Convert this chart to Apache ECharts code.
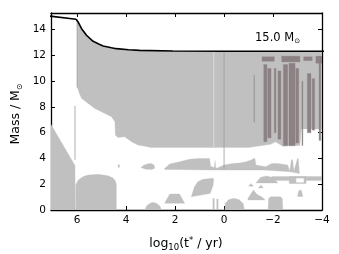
<!DOCTYPE html>
<html><head><meta charset="utf-8">
<script src="https://cdn.jsdelivr.net/npm/echarts@6/dist/echarts.min.js"></script>
<style>html,body{margin:0;padding:0;background:#fff}#c{width:339px;height:254px}</style>
</head><body><div id="c"></div><script>
// ---------- data (log10 t* [yr], mass [Msun]) ----------
const xTickValues = [6, 4, 2, 0, -2, -4];
const yTickValues = [0, 2, 4, 6, 8, 10, 12, 14];
const xAxisTitle = 'log{s|10}(t{p|*} / yr)';
const yAxisTitle = 'Mass / M{s|⊙}';
const massLabel = '15.0 M{s|⊙}';

const totalMassT = [7.2, 6.05, 5.96, 5.82, 5.62, 5.35, 5.1, 4.94, 4.6, 4.40, 3.9, 3.45, 2.09, 0, -4.1];
const totalMassM = [15.08, 14.81, 14.6, 14.08, 13.57, 13.1, 12.88, 12.74, 12.6, 12.53, 12.45, 12.40, 12.35, 12.33, 12.33];

const envelopeT = [6.0, 6.0, 5.96, 5.82, 5.62, 5.35, 4.94, 4.40, 3.45, 2.09, -4.1, -4.1, -3.15, -3.1, -2.4, -2.1, -1.9, -1.0, 3.0, 3.24, 3.52, 3.78, 4.06, 4.33, 4.44, 4.46, 4.60, 5.28, 5.82, 5.93];
const envelopeM = [9.6, 14.78, 14.56, 14.05, 13.54, 13.07, 12.71, 12.5, 12.37, 12.32, 12.3, 6.3, 6.3, 5.0, 4.95, 5.3, 5.1, 4.86, 4.86, 4.96, 5.04, 5.30, 5.68, 5.64, 5.81, 6.85, 7.24, 7.88, 8.66, 9.15];

const msCoreT = [7.2, 7.2, 6.64, 6.09, 6.08];
const msCoreM = [0, 7.06, 5.25, 3.45, 0];

const heCoreT = [6.06, 6.06, 5.96, 5.75, 5.55, 5.14, 4.74, 4.55, 4.45, 4.40, 4.40];
const heCoreM = [0, 1.94, 2.33, 2.6, 2.71, 2.77, 2.66, 2.5, 2.3, 2.0, 0];

const shellT = [2.43, 2.22, 1.82, 1.41, 1.07, 0.59, 0.55, 0.40, 0.37, 0.34, 0.3, 0.0, -0.35, -0.63, -0.9, -1.1, -1.22, -1.26, -1.3, -1.7, -1.95, -2.2, -2.6, -2.68, -2.75, -2.8, -2.85, -3.0, -3.03, -3.08, -2.7, -1.6, 0.5, 2.43];
const shellM = [3.23, 3.57, 3.75, 3.95, 4.0, 4.0, 3.4, 3.3, 3.85, 3.3, 3.25, 3.49, 3.62, 3.65, 3.75, 3.88, 4.0, 4.0, 3.5, 3.36, 3.62, 3.62, 3.49, 3.0, 3.9, 3.9, 3.0, 4.0, 4.0, 2.84, 2.97, 3.10, 3.10, 3.15];

const shellBlobT = [3.40, 3.3, 3.15, 2.98, 2.86, 2.83, 2.95, 3.2];
const shellBlobM = [3.3, 3.45, 3.58, 3.62, 3.5, 3.25, 3.15, 3.17];
const dotT = [4.34, 4.30, 4.26, 4.30];
const dotM = [3.41, 3.55, 3.41, 3.27];

const dome1T = [3.24, 3.15, 3.0, 2.9, 2.75, 2.62, 2.56];
const dome1M = [0, 0.35, 0.55, 0.6, 0.5, 0.3, 0];
const dome2T = [2.43, 2.22, 1.82, 1.61];
const dome2M = [0.52, 1.24, 1.24, 0.52];
const carbonT = [1.34, 1.21, 1.07, 0.87, 0.46, 0.42, 0.45, 0.57];
const carbonM = [1.03, 1.81, 2.19, 2.38, 2.46, 2.4, 1.9, 1.29];
const dome3T = [-0.03, -0.05, -0.18, -0.4, -0.62, -0.78, -0.83];
const dome3M = [0, 0.5, 0.8, 0.91, 0.8, 0.5, 0];
const spike1T = [0.46, 0.46, 0.40, 0.40];
const spike1M = [0, 0.9, 0.9, 0];
const spike2T = [0.30, 0.30, 0.24, 0.24];
const spike2M = [0, 0.85, 0.85, 0];
const dome4T = [-1.80, -1.82, -1.9, -2.3, -2.38, -2.40];
const dome4M = [0, 0.9, 1.03, 1.03, 0.9, 0];
const frag1T = [-0.96, -1.2, -1.35, -1.55, -1.68, -1.0];
const frag1M = [0.85, 1.55, 1.2, 1.0, 0.78, 0.78];
const frag2T = [-1.0, -1.1, -1.2];
const frag2M = [1.85, 2.05, 1.85];
const frag3T = [-1.4, -1.5, -1.6];
const frag3M = [1.7, 1.95, 1.7];
const bumpT = [-1.3, -1.5, -1.75, -2.0, -2.2];
const bumpM = [2.1, 2.55, 2.65, 2.5, 2.1];
const bandT = [-1.95, -1.95, -4.1, -4.1];
const bandM = [2.3, 2.6, 2.6, 2.3];
const blockT = [-2.66, -2.66, -3.35, -3.35];
const blockM = [2.05, 2.6, 2.6, 2.05];
const smallBlobT = [-3.0, -3.05, -3.15, -3.22];
const smallBlobM = [1.05, 1.5, 1.55, 1.05];
const holeT = [-2.95, -2.95, -3.25, -3.25];
const holeM = [2.15, 2.45, 2.45, 2.15];

// dark (overshoot / semiconvective) streaks: t from, t to, m from, m to
const streakT1 = [-1.62, -1.78, -2.05, -2.2, -2.42, -2.65, -2.93, -3.18, -3.4, -3.6, -3.88, -1.55, -2.35, -3.25, -3.75];
const streakT2 = [-1.75, -1.92, -2.12, -2.32, -2.6, -2.9, -3.05, -3.22, -3.55, -3.7, -3.95, -2.05, -3.1, -3.6, -4.0];
const streakM1 = [5.3, 5.6, 6.0, 5.5, 5.0, 5.0, 5.2, 5.0, 6.0, 6.2, 5.4, 11.55, 11.5, 11.6, 11.4];
const streakM2 = [11.3, 11.0, 11.0, 10.8, 11.3, 11.4, 11.0, 10.0, 10.6, 10.2, 11.8, 11.9, 11.95, 11.9, 11.95];

// thin vertical lines: t, m from, m to
const vlineT = [6.09, 6.0, 0.0, 0.42, -1.23];
const vlineM1 = [3.9, 9.5, 3.2, 4.86, 6.8];
const vlineM2 = [8.08, 14.8, 12.3, 12.3, 10.5];

// ---------- build ----------
const LIGHT = '#c0c0c0', DARK = '#8c8284';
const zip = (T, M) => T.map((t, i) => [t, M[i]]);
const lightShapes = [
  [envelopeT, envelopeM], [msCoreT, msCoreM], [heCoreT, heCoreM], [shellT, shellM],
  [shellBlobT, shellBlobM], [dotT, dotM], [dome1T, dome1M], [dome2T, dome2M],
  [carbonT, carbonM], [dome3T, dome3M], [spike1T, spike1M], [spike2T, spike2M],
  [dome4T, dome4M], [frag1T, frag1M], [frag2T, frag2M], [frag3T, frag3M],
  [bumpT, bumpM], [bandT, bandM], [blockT, blockM], [smallBlobT, smallBlobM]
].map(s => zip(s[0], s[1]));
const darkShapes = streakT1.map((t1, i) => [[t1, streakM1[i]], [t1, streakM2[i]], [streakT2[i], streakM2[i]], [streakT2[i], streakM1[i]]]);
const whiteShapes = [zip(holeT, holeM)];

function polySeries(shapes, color, z) {
  return {
    type: 'custom', z: z, clip: true, silent: true, animation: false,
    xAxisIndex: 0, yAxisIndex: 0,
    data: shapes.map((s, i) => [s[0][0], s[0][1], i]),
    encode: { x: 0, y: 1 },
    renderItem: function (params, api) {
      const pts = shapes[api.value(2)].map(p => api.coord(p));
      return { type: 'polygon', shape: { points: pts }, style: { fill: color, stroke: color, lineWidth: 0.3 } };
    }
  };
}

const vlineSeries = vlineT.map((t, i) => ({
  type: 'line', z: 4, symbol: 'none', silent: true, animation: false,
  data: [[t, vlineM1[i]], [t, vlineM2[i]]],
  lineStyle: { width: 0.8, color: i === 3 ? '#e2e2e2' : (i === 4 ? DARK : '#9a9a9a') }
}));

const FONT = 'DejaVu Sans';
const fmtX = v => (Math.abs(v - Math.round(v)) > 1e-6) ? '' : String(Math.round(v)).replace('-', '\u2212');
const fmtY = v => (Math.abs(v - Math.round(v)) > 1e-6) ? '' : String(Math.round(v));

const baseAxisLine = { show: true, onZero: false, lineStyle: { color: '#000', width: 1.3 } };
const tick = { show: true, inside: true, length: 4, lineStyle: { color: '#000', width: 1 } };

const subRich = { fontFamily: FONT, fontSize: 8.5, lineHeight: 8, verticalAlign: 'bottom', fill: '#000' };
const supRich = { fontFamily: FONT, fontSize: 8.5, lineHeight: 7, verticalAlign: 'top', fill: '#000' };

const chart = echarts.init(document.getElementById('c'), null, { renderer: 'canvas' });
chart.setOption({
  animation: false,
  grid: { left: 51, right: 17, top: 13, bottom: 44, containLabel: false, outerBoundsMode: 'none' },
  xAxis: [{
    type: 'value', min: -4, max: 7.07, interval: 2, inverse: true, position: 'bottom',
    axisLine: baseAxisLine, axisTick: tick, splitLine: { show: false },
    axisLabel: { formatter: fmtX, color: '#000', fontFamily: FONT, fontSize: 10.5, margin: 5 }
  }, {
    type: 'value', min: -4, max: 7.07, interval: 2, inverse: true, position: 'top',
    axisLine: baseAxisLine, axisTick: tick, axisLabel: { show: false }, splitLine: { show: false }
  }],
  yAxis: [{
    type: 'value', min: 0, max: 15.3, interval: 2, position: 'left',
    axisLine: baseAxisLine, axisTick: tick, splitLine: { show: false },
    axisLabel: { formatter: fmtY, color: '#000', fontFamily: FONT, fontSize: 10.5, margin: 5 }
  }, {
    type: 'value', min: 0, max: 15.3, interval: 2, position: 'right',
    axisLine: baseAxisLine, axisTick: tick, axisLabel: { show: false }, splitLine: { show: false }
  }],
  series: [
    polySeries(lightShapes, LIGHT, 2),
    polySeries(darkShapes, DARK, 3),
    polySeries(whiteShapes, '#ffffff', 3.5),
    ...vlineSeries,
    { type: 'line', z: 6, symbol: 'none', silent: true, animation: false, clip: true,
      data: zip(totalMassT, totalMassM), lineStyle: { color: '#000', width: 1.6 } }
  ],
  graphic: [{
    type: 'text', x: 255, y: 38, silent: true,
    style: { text: massLabel, fill: '#000', font: '11.5px "DejaVu Sans"', lineHeight: 14, verticalAlign: 'middle',
      rich: { s: { fontFamily: FONT, fontSize: 7, lineHeight: 6, verticalAlign: 'bottom', fill: '#000' } } }
  }, {
    type: 'text', x: 186, y: 244, silent: true,
    style: { text: xAxisTitle, fill: '#000', font: '12.5px "DejaVu Sans"', lineHeight: 16, align: 'center', verticalAlign: 'middle',
      rich: { s: subRich, p: supRich } }
  }, {
    type: 'text', x: 16, y: 114, rotation: Math.PI / 2, silent: true,
    style: { text: yAxisTitle, fill: '#000', font: '12.5px "DejaVu Sans"', lineHeight: 16, align: 'center', verticalAlign: 'middle',
      rich: { s: { fontFamily: FONT, fontSize: 8, lineHeight: 7, verticalAlign: 'bottom', fill: '#000' } } }
  }]
});
</script></body></html>
